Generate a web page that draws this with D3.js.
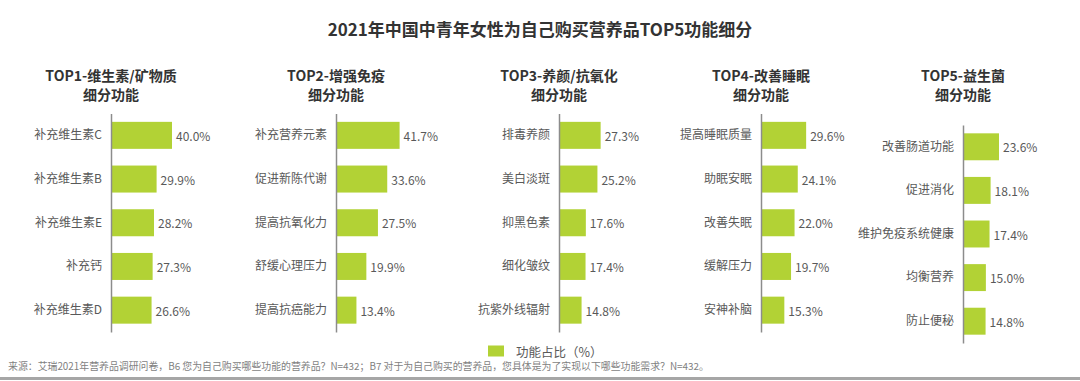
<!DOCTYPE html>
<html>
<head>
<meta charset="utf-8">
<script src="https://cdn.jsdelivr.net/npm/d3@7/dist/d3.min.js"></script>
<style>
  html, body { margin: 0; padding: 0; background: #fff; }
  svg { display: block; font-family: "Noto Sans CJK SC", "Noto Sans", sans-serif; }
</style>
</head>
<body>
<svg id="chart" width="1080" height="381"></svg>
<script>
const chartTitle = "2021年中国中青年女性为自己购买营养品TOP5功能细分";
const panelTitles = ["TOP1-维生素/矿物质", "TOP2-增强免疫", "TOP3-养颜/抗氧化", "TOP4-改善睡眠", "TOP5-益生菌"];
const panelSubtitle = "细分功能";

const cats1 = ["补充维生素C", "补充维生素B", "补充维生素E", "补充钙", "补充维生素D"];
const vals1 = [40.0, 29.9, 28.2, 27.3, 26.6];
const cats2 = ["补充营养元素", "促进新陈代谢", "提高抗氧化力", "舒缓心理压力", "提高抗癌能力"];
const vals2 = [41.7, 33.6, 27.5, 19.9, 13.4];
const cats3 = ["排毒养颜", "美白淡斑", "抑黑色素", "细化皱纹", "抗紫外线辐射"];
const vals3 = [27.3, 25.2, 17.6, 17.4, 14.8];
const cats4 = ["提高睡眠质量", "助眠安眠", "改善失眠", "缓解压力", "安神补脑"];
const vals4 = [29.6, 24.1, 22.0, 19.7, 15.3];
const cats5 = ["改善肠道功能", "促进消化", "维护免疫系统健康", "均衡营养", "防止便秘"];
const vals5 = [23.6, 18.1, 17.4, 15.0, 14.8];

const legendLabel = "功能占比（%）";
const sourceNote = "来源：艾瑞2021年营养品调研问卷，B6 您为自己购买哪些功能的营养品？N=432；B7 对于为自己购买的营养品，您具体是为了实现以下哪些功能需求？N=432。";

const panels = [
  { cats: cats1, vals: vals1 },
  { cats: cats2, vals: vals2 },
  { cats: cats3, vals: vals3 },
  { cats: cats4, vals: vals4 },
  { cats: cats5, vals: vals5 }
];

const svg = d3.select("#chart");
const green = "#b2d235";
const textColor = "#595959";

const axisX = [111, 336, 559, 761, 963];
const yRanges = [[113.5, 332], [113.5, 332], [113.5, 332], [113.5, 332], [125, 343]];

const x = d3.scaleLinear().domain([0, 100]).range([0, 152.5]);

svg.append("text")
  .attr("x", 540).attr("y", 28)
  .attr("text-anchor", "middle").attr("dominant-baseline", "central")
  .attr("font-size", 17).attr("font-weight", "bold").attr("fill", "#333")
  .text(chartTitle);

panels.forEach((p, i) => {
  const g = svg.append("g").attr("transform", `translate(${axisX[i]},0)`);
  const y = d3.scaleBand().domain(p.cats).range(yRanges[i]).paddingInner(0.382).paddingOuter(0.191);

  g.append("text").attr("x", 0).attr("y", 75)
    .attr("text-anchor", "middle").attr("dominant-baseline", "central")
    .attr("font-size", 14).attr("font-weight", "bold").attr("fill", "#333")
    .text(panelTitles[i]);
  g.append("text").attr("x", 0).attr("y", 94)
    .attr("text-anchor", "middle").attr("dominant-baseline", "central")
    .attr("font-size", 14).attr("font-weight", "bold").attr("fill", "#333")
    .text(panelSubtitle);

  g.selectAll("rect.bar").data(p.vals).join("rect")
    .attr("class", "bar")
    .attr("x", 0)
    .attr("y", (d, j) => y(p.cats[j]))
    .attr("width", d => x(d))
    .attr("height", y.bandwidth())
    .attr("fill", green);

  const axis = d3.axisLeft(y).tickSize(0).tickPadding(9);
  const ag = g.append("g").call(axis);
  ag.select(".domain").attr("stroke", "#8c8c8c").attr("stroke-width", 1.5);
  ag.selectAll("text").attr("font-size", 12).attr("fill", textColor)
    .attr("font-family", "'Noto Sans CJK SC', sans-serif");

  g.selectAll("text.val").data(p.vals).join("text")
    .attr("class", "val")
    .attr("x", d => x(d) + 4)
    .attr("y", (d, j) => y(p.cats[j]) + y.bandwidth() / 2)
    .attr("dominant-baseline", "central")
    .attr("font-size", 12).attr("fill", textColor)
    .text(d => d.toFixed(1) + "%");
});

// legend
svg.append("rect").attr("x", 488).attr("y", 345.5).attr("width", 16).attr("height", 11).attr("fill", green);
svg.append("text").attr("x", 516).attr("y", 351)
  .attr("dominant-baseline", "central").attr("font-size", 12.5).attr("fill", textColor)
  .text(legendLabel);

// source
svg.append("text").attr("x", 8).attr("y", 366)
  .attr("dominant-baseline", "central").attr("font-size", 9.9).attr("fill", "#7f7f7f")
  .text(sourceNote);

svg.append("line").attr("x1", 0).attr("x2", 1080).attr("y1", 378.5).attr("y2", 378.5)
  .attr("stroke", "#a6a6a6").attr("stroke-width", 3);
</script>
</body>
</html>
